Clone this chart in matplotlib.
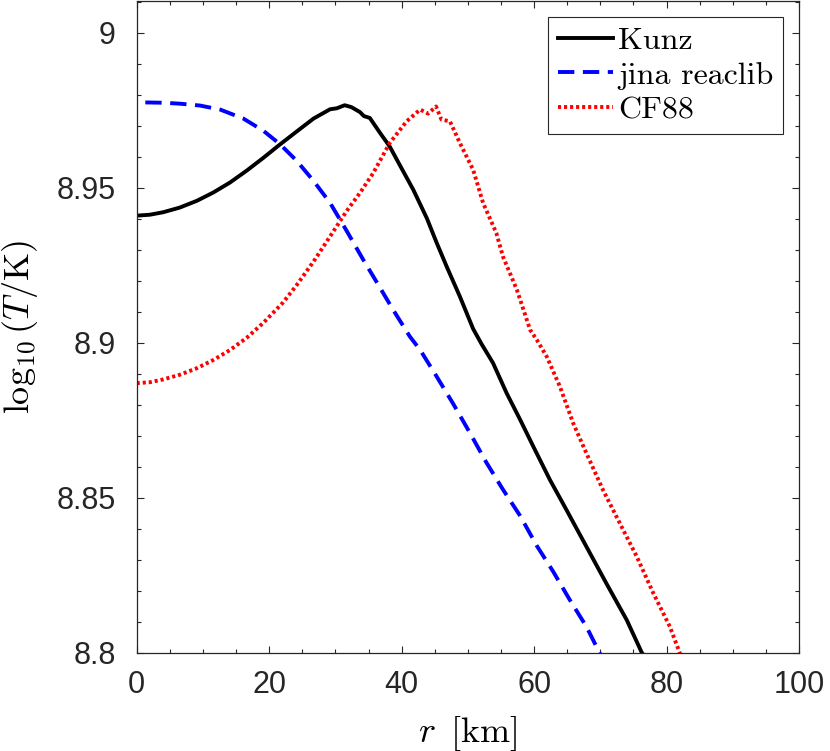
import matplotlib
matplotlib.use("Agg")
import matplotlib.pyplot as plt
from matplotlib.ticker import MultipleLocator

plt.rcParams['mathtext.fontset'] = 'cm'

# ---- data ----
r_kunz = [0, 2.0, 4.0, 6.5, 9.1, 11.6, 14.1, 16.6, 19.1, 21.6, 24.2, 26.7, 29.2, 30.2, 31.4,
          32.4, 33.7, 34.3, 35.2, 36.7, 38.2, 39.7, 41.75, 43.8, 45.3, 46.8, 48.8, 50.8, 52.1,
          53.8, 55.85, 57.9, 59.9, 62.4, 64.9, 67.9, 70.9, 74.0, 76.2, 80.0]
t_kunz = [8.9410, 8.9413, 8.9421, 8.9436, 8.9458, 8.9485, 8.9517, 8.9555, 8.9596, 8.9639,
          8.9682, 8.9723, 8.9753, 8.9756, 8.9766, 8.9760, 8.9744, 8.9731, 8.9725, 8.9678,
          8.9633, 8.9574, 8.9494, 8.9402, 8.9322, 8.9246, 8.9149, 8.9045, 8.8995, 8.8935,
          8.8838, 8.8752, 8.8665, 8.8558, 8.8461, 8.8343, 8.8225, 8.8106, 8.8004, 8.787]

r_jina = [1.3, 4.0, 6.5, 9.55, 12.6, 16.1, 19.1, 21.6, 24.15, 26.7, 29.2, 31.7, 34.2, 36.2,
          38.7, 41.25, 42.8, 45.3, 47.8, 50.3, 52.8, 55.3, 57.9, 60.4, 62.9, 65.4, 67.9,
          69.9, 72.0]
t_jina = [8.9775, 8.9774, 8.9771, 8.9765, 8.9752, 8.9723, 8.9684, 8.9641, 8.9587, 8.9522,
          8.9451, 8.9361, 8.9268, 8.9197, 8.9107, 8.9020, 8.8977, 8.8891, 8.8803, 8.8710,
          8.8614, 8.8527, 8.8442, 8.8346, 8.8262, 8.8171, 8.8085, 8.8000, 8.793]

r_cf88 = [0, 2.0, 4.0, 6.5, 9.06, 11.6, 14.1, 16.6, 19.1, 22.1, 24.15, 26.7, 29.2, 31.7, 33.7,
          35.7, 38.2, 40.75, 42.8, 44.0, 45.2, 46.0, 47.3, 48.8, 50.8, 52.3, 54.3, 55.3, 57.4,
          59.4, 60.4, 61.9, 63.9, 65.9, 67.9, 70.4, 72.95, 75.5, 78.0, 80.5, 82.0, 84.0]
t_cf88 = [8.8870, 8.8873, 8.8882, 8.8897, 8.8918, 8.8945, 8.8977, 8.9016, 8.9064, 8.9130,
          8.9186, 8.9262, 8.9343, 8.9425, 8.9483, 8.9547, 8.9644, 8.9714, 8.9752, 8.9739,
          8.9762, 8.9720, 8.9714, 8.9644, 8.9558, 8.9451, 8.9354, 8.9278, 8.9171, 8.9042,
          8.9010, 8.8956, 8.8859, 8.8741, 8.8644, 8.8526, 8.8418, 8.8311, 8.8193, 8.8085,
          8.8000, 8.792]

labels = ['Kunz', 'jina reaclib', 'CF88']
xticks = [0, 20, 40, 60, 80, 100]
yticks = [8.8, 8.85, 8.9, 8.95, 9.0]
ytick_labels = ['8.8', '8.85', '8.9', '8.95', '9']

# ---- figure ----
fig = plt.figure(figsize=(8.30, 7.51), dpi=100)
ax = fig.add_axes([136.7 / 830, 98 / 751, 662.3 / 830, 652 / 751])

lw = 2.8
ax.plot(r_kunz, t_kunz, color='black', lw=lw, label=labels[0])
ax.plot(r_jina, t_jina, color='#0000ff', lw=lw, linestyle=(0, (4.2, 2.2)), label=labels[1],
        dash_capstyle='butt')
ax.plot(r_cf88, t_cf88, color='#ff0000', lw=lw, linestyle=(0, (0.8, 0.75)), label=labels[2],
        dash_capstyle='butt')

ax.set_xlim(0, 100)
ax.set_ylim(8.8, 9.0102)
ax.set_xticks(xticks)
ax.set_yticks(yticks)
ax.xaxis.set_minor_locator(MultipleLocator(5))
ax.yaxis.set_minor_locator(MultipleLocator(0.01))
ax.set_xticklabels([str(v) for v in xticks])
ax.set_yticklabels(ytick_labels)

for s in ax.spines.values():
    s.set_color('#262626')
    s.set_linewidth(0.9)

ax.tick_params(which='both', direction='in', top=True, right=True, color='#262626', width=0.8)
ax.tick_params(which='major', length=5)
ax.tick_params(which='minor', length=3)
ax.tick_params(axis='x', which='major', pad=12)
ax.tick_params(axis='y', which='major', pad=15)
for lab in ax.get_xticklabels() + ax.get_yticklabels():
    lab.set_fontfamily('Liberation Sans')
    lab.set_fontsize(22)
    lab.set_color('#262626')

ax.set_xlabel(r'$r\ \,[\mathrm{km}]$', fontsize=26, labelpad=10)
ax.set_ylabel(r'$\log_{10}(T/\mathrm{K})$', fontsize=26, labelpad=12)

leg = ax.legend(loc='upper right', prop={'family': 'cmr10', 'size': 23}, frameon=True,
                fancybox=False, edgecolor='#262626', framealpha=1, handlelength=1.75,
                handletextpad=0.15, labelspacing=0.2, borderaxespad=0.5, borderpad=0.3)
leg.get_frame().set_linewidth(0.8)

fig.savefig('out.png', dpi=100, facecolor='white')
